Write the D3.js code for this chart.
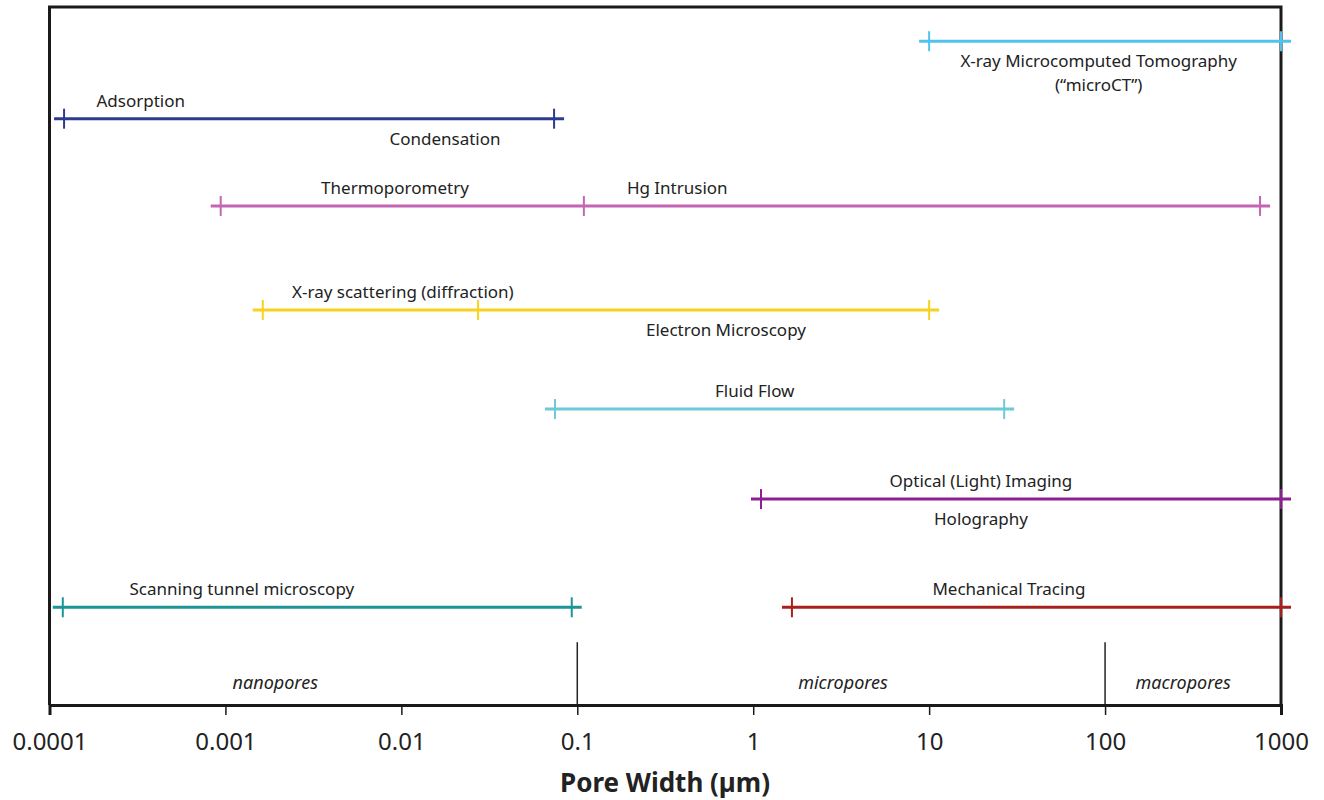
<!DOCTYPE html>
<html>
<head>
<meta charset="utf-8">
<script src="https://cdn.jsdelivr.net/npm/d3@7"></script>
<style>
  body { margin: 0; background: #fff; }
  svg text { font-family: "Noto Sans", "DejaVu Sans", sans-serif; fill: #222; }
</style>
</head>
<body>
<div id="chart"></div>
<script>
// Techniques: range end points / break points (pore width in µm)
var techniques = ["microCT", "Adsorption", "Thermo / Hg", "X-ray / EM", "Fluid Flow", "Optical", "STM", "Mechanical"];
var techTicks = [
  [10, 1000],
  [0.000121, 0.0738],
  [0.00094, 0.109, 760],
  [0.00163, 0.0273, 10],
  [0.0747, 26.7],
  [1.107, 1000],
  [0.000119, 0.093],
  [1.66, 1000]
];
// vertical lane of each technique (0 = top of frame, 100 = axis)
var techLane = [4.9, 16.0, 28.5, 43.4, 57.6, 70.5, 86.0, 86.0];
var techColors = ["#4fc3ee", "#2e3b8c", "#c564b6", "#f7d11e", "#6ec9d8", "#8e1f91", "#1d9596", "#a8201e"];

// labels: text, technique index, centre value, side
var labelText = ["X-ray Microcomputed Tomography", "(\u201cmicroCT\u201d)", "Adsorption", "Condensation",
  "Thermoporometry", "Hg Intrusion", "X-ray scattering (diffraction)", "Electron Microscopy",
  "Fluid Flow", "Optical (Light) Imaging", "Holography", "Scanning tunnel microscopy", "Mechanical Tracing"];
var labelRow = [0, 0, 1, 1, 2, 2, 3, 3, 4, 5, 5, 6, 7];
var labelAt = [92, 92, 0.00033, 0.0177, 0.0092, 0.37, 0.0102, 0.70, 1.02, 19.7, 19.7, 0.00124, 28.4];
var labelSide = ["below", "below2", "above", "below", "above", "above", "above", "below", "above", "above", "below", "above", "above"];

// pore size classes
var poreClasses = ["nanopores", "micropores", "macropores"];
var poreLabelAt = [0.00192, 3.24, 278];
var poreBounds = [0.1, 100];

var xTicks = [0.0001, 0.001, 0.01, 0.1, 1, 10, 100, 1000];
var xTickLabels = ["0.0001", "0.001", "0.01", "0.1", "1", "10", "100", "1000"];

var width = 1324, height = 800;
var plotLeft = 49.5, plotRight = 1281, plotTop = 7, plotBottom = 705;

var svg = d3.select("#chart").append("svg")
  .attr("width", width).attr("height", height);

var x = d3.scaleLog().domain([0.0001, 1000]).range([plotLeft, plotRight]);
var y = d3.scaleLinear().domain([0, 100]).range([plotTop, plotBottom]);

// pore class dividers
svg.selectAll(".divider").data(poreBounds).enter().append("line")
  .attr("x1", d => x(d)).attr("x2", d => x(d))
  .attr("y1", y(91)).attr("y2", plotBottom)
  .attr("stroke", "#222").attr("stroke-width", 1.5);

svg.selectAll(".pore").data(poreClasses).enter().append("text")
  .attr("x", (d, i) => x(poreLabelAt[i]))
  .attr("y", 689)
  .attr("text-anchor", "middle")
  .attr("font-size", "18px")
  .attr("font-style", "italic")
  .text(d => d);

// frame
svg.append("path")
  .attr("d", "M" + plotLeft + "," + plotBottom + "V" + plotTop + "H" + plotRight + "V" + plotBottom)
  .attr("fill", "none").attr("stroke", "#1a1a1a").attr("stroke-width", 3);

// x axis
var axis = svg.append("g")
  .attr("transform", "translate(0," + plotBottom + ")")
  .call(d3.axisBottom(x).tickValues(xTicks).tickSize(10).tickPadding(18)
    .tickFormat((d, i) => xTickLabels[i]));
axis.select(".domain").attr("stroke", "#1a1a1a").attr("stroke-width", 3);
axis.selectAll(".tick line").attr("stroke", "#1a1a1a").attr("stroke-width", 1.5);
axis.selectAll(".tick text")
  .attr("font-size", "24px")
  .attr("font-family", "'Noto Sans', sans-serif")
  .attr("fill", "#222");

svg.append("text")
  .attr("x", 665).attr("y", 792)
  .attr("text-anchor", "middle")
  .attr("font-size", "26px")
  .attr("font-weight", "bold")
  .text("Pore Width (\u00b5m)");

// technique ranges
var rows = svg.selectAll(".tech").data(techniques).enter().append("g");

rows.append("line")
  .attr("x1", (d, i) => x(d3.min(techTicks[i])) - 10)
  .attr("x2", (d, i) => x(d3.max(techTicks[i])) + 10)
  .attr("y1", (d, i) => y(techLane[i]))
  .attr("y2", (d, i) => y(techLane[i]))
  .attr("stroke", (d, i) => techColors[i])
  .attr("stroke-width", 3);

rows.each(function(d, i) {
  d3.select(this).selectAll("line.tk").data(techTicks[i]).enter().append("line")
    .attr("class", "tk")
    .attr("x1", v => x(v)).attr("x2", v => x(v))
    .attr("y1", y(techLane[i]) - 10).attr("y2", y(techLane[i]) + 10)
    .attr("stroke", techColors[i])
    .attr("stroke-width", 2);
});

// labels
svg.selectAll(".lbl").data(labelText).enter().append("text")
  .attr("x", (d, i) => x(labelAt[i]))
  .attr("y", function(d, i) {
    var yy = y(techLane[labelRow[i]]);
    if (labelSide[i] == "above") return yy - 12;
    if (labelSide[i] == "below") return yy + 26;
    return yy + 50;
  })
  .attr("text-anchor", "middle")
  .attr("font-size", "17px")
  .text(d => d);
</script>
</body>
</html>
